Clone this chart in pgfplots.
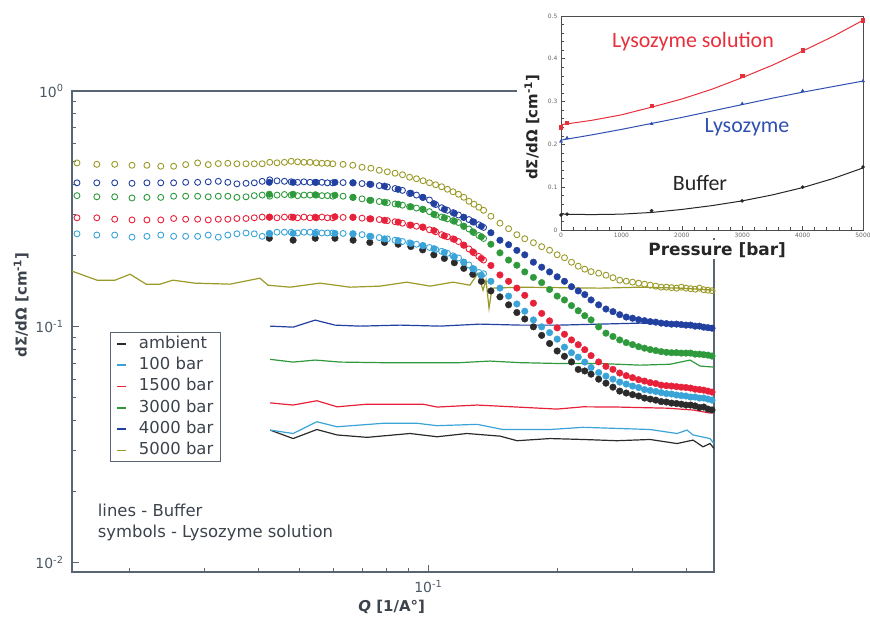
\documentclass[border=0pt]{standalone}
\usepackage{pgfplots}
\pgfplotsset{compat=1.18}
\usepackage{pgfplotstable}
\usepackage{fontspec}
\setmainfont{DejaVu Sans}
\newfontfamily\carlito{Carlito}
\definecolor{cAmb}{HTML}{2B2B2B}
\definecolor{cB}{HTML}{3AA3D8}
\definecolor{cR}{HTML}{E8213A}
\definecolor{cG}{HTML}{2E9A3C}
\definecolor{cBl}{HTML}{2140A0}
\definecolor{cO}{HTML}{9A9A28}
\definecolor{axisc}{HTML}{5A6573}
\definecolor{textc}{HTML}{3C434C}
\definecolor{tickc}{HTML}{4B5866}
\definecolor{insR}{HTML}{E8303C}
\definecolor{insB}{HTML}{3050B0}

% Lysozyme solution, filled symbols (high-Q setting)
\pgfplotstableread{
Q amb p100 p1500 p3000 p4000
0.0425 0.2375 0.249 0.2916 0.365 0.410
0.0483 0.233 0.249 0.2916 0.365 0.410
0.0544 0.2375 0.249 0.2916 0.363 0.410
0.0605 0.2375 0.249 0.293 0.3615 0.410
0.0667 0.233 0.248 0.2916 0.354 0.408
0.073 0.228 0.242 0.287 0.344 0.4025
0.079 0.228 0.236 0.283 0.3375 0.395
0.085 0.224 0.232 0.278 0.331 0.383
0.091 0.219 0.226 0.270 0.323 0.3685
0.097 0.212 0.221 0.265 0.315 0.354
0.103 0.202 0.2145 0.256 0.300 0.333
0.109 0.195 0.207 0.243 0.290 0.315
0.115 0.187 0.198 0.235 0.2805 0.303
0.121 0.177 0.188 0.222 0.267 0.2916
0.127 0.167 0.1765 0.208 0.253 0.279
0.133 0.156 0.1656 0.195 0.241 0.267
0.140 0.142 0.156 0.182 0.224 0.2506
0.147 0.134 0.146 0.166 0.206 0.233
0.154 0.124 0.135 0.156 0.192 0.223
0.161 0.115 0.125 0.146 0.1825 0.211
0.168 0.108 0.1165 0.136 0.171 0.202
0.176 0.100 0.107 0.126 0.162 0.188
0.184 0.092 0.100 0.114 0.154 0.179
0.192 0.085 0.0945 0.106 0.144 0.171
0.200 0.079 0.0887 0.099 0.135 0.163
0.208 0.075 0.082 0.093 0.130 0.156
0.216 0.071 0.0777 0.088 0.123 0.148
0.224 0.066 0.0744 0.084 0.117 0.142
0.232 0.065 0.0709 0.080 0.1115 0.137
0.240 0.063 0.0672 0.0755 0.107 0.130
0.250 0.060 0.064 0.071 0.100 0.124
0.260 0.0577 0.0618 0.068 0.094 0.119
0.270 0.0555 0.060 0.066 0.091 0.116
0.280 0.0534 0.0583 0.0637 0.088 0.1126
0.290 0.0524 0.0572 0.0621 0.0857 0.110
0.300 0.0516 0.0561 0.0609 0.0841 0.1088
0.310 0.0509 0.0553 0.0597 0.0824 0.1072
0.320 0.0499 0.0542 0.0589 0.0812 0.1062
0.330 0.0494 0.0537 0.0580 0.0801 0.1052
0.340 0.0489 0.0532 0.0575 0.0793 0.1047
0.350 0.0482 0.0526 0.0566 0.0785 0.1037
0.360 0.0480 0.0521 0.0563 0.0780 0.1032
0.370 0.0475 0.0519 0.0561 0.0777 0.1027
0.380 0.0473 0.0514 0.0558 0.0777 0.1027
0.390 0.0470 0.0511 0.0555 0.0774 0.1022
0.400 0.0466 0.0509 0.0553 0.0774 0.1017
0.410 0.0466 0.0504 0.0550 0.0774 0.1017
0.420 0.0462 0.0504 0.0544 0.0766 0.1007
0.430 0.0455 0.0499 0.0542 0.0766 0.1007
0.440 0.0457 0.0499 0.0539 0.0762 0.0997
0.450 0.0448 0.0494 0.0534 0.0759 0.0992
0.460 0.0444 0.0489 0.0529 0.0752 0.0987
}\filled

% Lysozyme solution, open symbols (low-Q setting)
\pgfplotstableread{
Q p100 p1500 p3000 p4000 p5000
0.0151 0.248 0.290 0.360 0.408 0.4955
0.0168 0.245 0.290 0.356 0.408 0.4887
0.0185 0.245 0.286 0.356 0.408 0.4887
0.0203 0.240 0.284 0.352 0.406 0.4843
0.0220 0.242 0.284 0.354 0.408 0.4843
0.0237 0.245 0.284 0.354 0.408 0.4796
0.0254 0.242 0.288 0.358 0.408 0.4796
0.0271 0.242 0.286 0.358 0.410 0.4874
0.0289 0.242 0.286 0.358 0.410 0.4955
0.0306 0.245 0.284 0.356 0.412 0.4874
0.0323 0.240 0.286 0.358 0.414 0.4922
0.0340 0.245 0.286 0.358 0.410 0.4938
0.0357 0.248 0.288 0.354 0.404 0.4914
0.0375 0.250 0.288 0.356 0.406 0.4914
0.0392 0.248 0.290 0.360 0.408 0.4914
0.0409 0.242 0.292 0.362 0.414 0.4914
0.0426 0.248 0.292 0.358 0.420 0.4985
0.0443 0.252 0.290 0.362 0.416 0.4960
0.0461 0.252 0.292 0.364 0.414 0.4985
0.0478 0.252 0.292 0.362 0.412 0.5035
0.0495 0.250 0.290 0.360 0.410 0.5010
0.0512 0.252 0.292 0.362 0.412 0.4985
0.0529 0.252 0.290 0.362 0.410 0.4985
0.0547 0.252 0.290 0.362 0.410 0.4960
0.0564 0.250 0.292 0.360 0.410 0.4938
0.0581 0.250 0.290 0.360 0.408 0.4938
0.0598 0.250 0.290 0.358 0.408 0.4914
0.0632 0.249 0.291 0.358 0.409 0.4887
0.0666 0.248 0.291 0.354 0.408 0.4843
0.0700 0.246 0.289 0.349 0.405 0.4750
0.0734 0.242 0.287 0.344 0.402 0.4705
0.0768 0.239 0.285 0.340 0.397 0.4613
0.0802 0.236 0.282 0.336 0.392 0.4546
0.0836 0.233 0.279 0.332 0.386 0.4480
0.0870 0.230 0.275 0.328 0.379 0.4415
0.0904 0.227 0.270 0.323 0.368 0.4309
0.0938 0.224 0.267 0.319 0.362 0.4246
0.0972 0.221 0.264 0.315 0.354 0.4164
0.1006 0.217 0.258 0.308 0.345 0.4083
0.1040 0.213 0.253 0.298 0.330 0.4004
0.1074 0.209 0.246 0.292 0.320 0.3927
0.1108 0.205 0.241 0.287 0.312 0.3832
0.1142 0.200 0.236 0.282 0.305 0.3740
0.1176 0.196 0.230 0.277 0.298 0.3650
0.1210 0.188 0.222 0.267 0.291 0.3544
0.1244 0.183 0.214 0.260 0.285 0.3408
0.1278 0.176 0.206 0.251 0.278 0.3311
0.1312 0.170 0.199 0.244 0.271 0.3215
0.1346 0.168 0.192 0.237 0.264 0.3121
}\openlow

% 5000 bar solution, open symbols at high Q
\pgfplotstableread{
Q I
0.140 0.2944
0.147 0.2751
0.154 0.2607
0.161 0.2458
0.168 0.2364
0.176 0.2274
0.184 0.2187
0.192 0.2113
0.200 0.2022
0.208 0.1964
0.216 0.1879
0.224 0.1808
0.232 0.1756
0.240 0.1714
0.250 0.1689
0.260 0.1656
0.270 0.1616
0.280 0.1577
0.290 0.1562
0.300 0.1547
0.310 0.1532
0.320 0.1517
0.330 0.1502
0.340 0.1488
0.350 0.1473
0.360 0.1473
0.370 0.1466
0.380 0.1459
0.390 0.1473
0.400 0.1459
0.410 0.1451
0.420 0.1444
0.430 0.1459
0.440 0.1437
0.450 0.1430
0.460 0.1423
}\olivehigh

\begin{document}
\begin{tikzpicture}
\useasboundingbox (0,0) rectangle (870bp,621bp);
\begin{axis}[
  at={(72bp,49bp)}, anchor=south west, scale only axis,
  width=642bp, height=481bp,
  xmode=log, ymode=log,
  xmin=0.0147, xmax=0.465, ymin=0.00913, ymax=1,
  axis line style={draw=axisc, line width=1.2bp},
  tick align=inside, tick pos=left,
  xtick={0.1}, xticklabels={10\textsuperscript{-1}},
  minor xtick={0.02,0.03,0.04,0.05,0.06,0.07,0.08,0.09,0.2,0.3,0.4},
  ytick={0.01,0.1,1},
  yticklabels={10\textsuperscript{-2},10\textsuperscript{-1},10\textsuperscript{0}},
  minor ytick={0.02,0.03,0.04,0.05,0.06,0.07,0.08,0.09,0.2,0.3,0.4,0.5,0.6,0.7,0.8,0.9},
  major tick length=7bp, minor tick length=4.5bp,
  every tick/.style={draw=axisc, line width=1bp},
  ticklabel style={font=\fontsize{14}{14}\selectfont, text=tickc},
  yticklabel style={xshift=-5bp},
  xticklabel style={yshift=-5bp},
  xlabel={\textbf{\textit{Q} [1/A°]}},
  ylabel={\textbf{dΣ/dΩ [cm\textsuperscript{-1}]}},
  label style={font=\fontsize{15}{15}\selectfont, text=textc},
  xlabel style={at={(axis description cs:0.498,-0.073)}, anchor=center},
  ylabel style={at={(axis description cs:-0.079,0.555)}, anchor=center},
  legend style={at={(0.0592,0.499)}, anchor=north west, draw=axisc, line width=0.8bp,
    fill=white, font=\fontsize{16.5}{18}\selectfont, text=textc,
    inner xsep=6bp, inner ysep=3bp, row sep=4.3bp, column sep=11bp,
    nodes={inner sep=1bp, text height=12bp, text depth=3bp},
    cells={anchor=west}},
  legend image code/.code={\draw[#1, line width=1.6bp] (0bp,0bp) -- (9bp,0bp);},
  clip=true,
]
% ---- buffer (lines)
\addplot[cAmb, line width=1.2bp] coordinates {
(0.0427,0.0365) (0.0483,0.0336) (0.0549,0.0367) (0.0612,0.0348) (0.0719,0.0340)
(0.0906,0.0353) (0.1048,0.0342) (0.1231,0.0353) (0.1471,0.0344) (0.1612,0.0329)
(0.1924,0.0336) (0.2298,0.0333) (0.2760,0.0329) (0.3296,0.0333) (0.3812,0.0320)
(0.4154,0.0331) (0.4383,0.0310) (0.4551,0.0320) (0.465,0.0305)};
\addlegendentry{ambient}
\addplot[cB, line width=1.2bp] coordinates {
(0.0427,0.0365) (0.0483,0.0353) (0.0549,0.0396) (0.0612,0.0377) (0.0784,0.0390)
(0.0941,0.0390) (0.1048,0.0381) (0.1300,0.0386) (0.1494,0.0367) (0.1924,0.0367)
(0.2298,0.0375) (0.2760,0.0371) (0.3296,0.0367) (0.3812,0.0353) (0.4022,0.0365)
(0.4154,0.0348) (0.4551,0.0336) (0.465,0.0320)};
\addlegendentry{100 bar}
\addplot[cR, line width=1.2bp] coordinates {
(0.0427,0.0476) (0.0483,0.0466) (0.0549,0.0486) (0.0612,0.0458) (0.0719,0.0470)
(0.0972,0.0470) (0.1048,0.0457) (0.1300,0.0466) (0.1612,0.0457) (0.1999,0.0448)
(0.2298,0.0458) (0.2760,0.0457) (0.3612,0.0452) (0.4154,0.0444) (0.4551,0.0431) (0.465,0.0435)};
\addlegendentry{1500 bar}
\addplot[cG, line width=1.2bp] coordinates {
(0.0427,0.0728) (0.0483,0.0709) (0.0544,0.0723) (0.0622,0.0709) (0.0771,0.0705)
(0.0956,0.0705) (0.1186,0.0705) (0.1393,0.0716) (0.1637,0.0705) (0.2030,0.0699)
(0.2519,0.0699) (0.3124,0.0688) (0.3670,0.0694) (0.4088,0.0723) (0.4313,0.0682) (0.465,0.0675)};
\addlegendentry{3000 bar}
\addplot[cBl, line width=1.2bp] coordinates {
(0.0427,0.1007) (0.0483,0.0997) (0.0544,0.1068) (0.0605,0.1017) (0.0692,0.1007)
(0.0859,0.1017) (0.1065,0.1007) (0.1320,0.1027) (0.1637,0.1017) (0.2030,0.1017)
(0.2519,0.1027) (0.3124,0.1037) (0.3873,0.1027) (0.465,0.1007)};
\addlegendentry{4000 bar}
\addplot[cO, line width=1.2bp] coordinates {
(0.01471,0.1722) (0.01682,0.1577) (0.01853,0.1577) (0.02009,0.1672) (0.0219,0.1517)
(0.0236,0.1517) (0.0253,0.1577) (0.0285,0.1532) (0.0344,0.1517) (0.0404,0.1608)
(0.0422,0.1502) (0.0475,0.1473) (0.0558,0.1532) (0.0656,0.1473) (0.0771,0.1488)
(0.0891,0.1547) (0.1009,0.1488) (0.1142,0.1547) (0.1251,0.1502) (0.1306,0.1689)
(0.1342,0.1430) (0.1364,0.1577) (0.1386,0.1200) (0.1409,0.1459) (0.1637,0.1473)
(0.2030,0.1466) (0.2519,0.1459) (0.3124,0.1473) (0.3873,0.1459) (0.4313,0.1444) (0.465,0.1430)};
\addlegendentry{5000 bar}
% ---- solution, filled symbols
\addplot[forget plot, only marks, mark=*, mark size=3.3bp, color=cAmb] table[x=Q,y=amb] {\filled};
\addplot[forget plot, only marks, mark=*, mark size=3.3bp, color=cB] table[x=Q,y=p100] {\filled};
\addplot[forget plot, only marks, mark=*, mark size=3.3bp, color=cR] table[x=Q,y=p1500] {\filled};
\addplot[forget plot, only marks, mark=*, mark size=3.3bp, color=cG] table[x=Q,y=p3000] {\filled};
\addplot[forget plot, only marks, mark=*, mark size=3.3bp, color=cBl] table[x=Q,y=p4000] {\filled};
% ---- solution, open symbols
\addplot[forget plot, only marks, mark=o, mark size=3bp, mark options={line width=0.9bp}, color=cB] table[x=Q,y=p100] {\openlow};
\addplot[forget plot, only marks, mark=o, mark size=3bp, mark options={line width=0.9bp}, color=cR] table[x=Q,y=p1500] {\openlow};
\addplot[forget plot, only marks, mark=o, mark size=3bp, mark options={line width=0.9bp}, color=cG] table[x=Q,y=p3000] {\openlow};
\addplot[forget plot, only marks, mark=o, mark size=3bp, mark options={line width=0.9bp}, color=cBl] table[x=Q,y=p4000] {\openlow};
\addplot[forget plot, only marks, mark=o, mark size=3bp, mark options={line width=0.9bp}, color=cO] table[x=Q,y=p5000] {\openlow};
\addplot[forget plot, only marks, mark=o, mark size=3bp, mark options={line width=0.9bp}, color=cO] table[x=Q,y=I] {\olivehigh};
\end{axis}

\node[anchor=base west, inner sep=0pt, text=textc, font=\fontsize{16.5}{18}\selectfont] at (97.7bp,104bp) {lines - Buffer};
\node[anchor=base west, inner sep=0pt, text=textc, font=\fontsize{16.5}{18}\selectfont] at (97.7bp,83.7bp) {symbols - Lysozyme solution};

% ---- inset (white panel behind it)
\fill[white] (517bp,431bp) -- (517bp,621bp) -- (870bp,621bp) -- (870bp,383bp) -- (550bp,383bp) -- (550bp,431bp) -- cycle;
\begin{axis}[
  at={(561bp,391bp)}, anchor=south west, scale only axis,
  width=302bp, height=214bp,
  xmin=0, xmax=5000, ymin=0, ymax=0.5,
  xtick={0,1000,2000,3000,4000,5000},
  ytick={0,0.1,0.2,0.3,0.4,0.5},
  minor x tick num=4, minor y tick num=4,
  tick align=inside, tick pos=left,
  major tick length=4bp, minor tick length=2.5bp,
  every tick/.style={draw=black!70, line width=0.6bp},
  axis line style={draw=black!70, line width=0.8bp},
  /pgf/number format/assume math mode=true,
  /pgf/number format/1000 sep={},
  /pgf/number format/fixed,
  ticklabel style={font=\fontsize{6}{6}\selectfont, text=black!60},
  xlabel={\textbf{Pressure [bar]}},
  ylabel={\textbf{dΣ/dΩ [cm\textsuperscript{-1}]}},
  xlabel style={font=\fontsize{17}{17}\selectfont, text=black!85, fill=white, inner sep=2bp, at={(axis description cs:0.517,-0.093)}, anchor=center},
  ylabel style={font=\fontsize{15}{15}\selectfont, text=black!85, at={(axis description cs:-0.096,0.48)}, anchor=center},
]
\addplot[insR, line width=1bp] coordinates {(0,0.246) (500,0.256) (1000,0.269) (1500,0.287) (2000,0.306) (2500,0.329) (3000,0.356) (3500,0.385) (4000,0.418) (4500,0.452) (5000,0.49)};
\addplot[insR, only marks, mark=square*, mark size=1.6bp] coordinates {(0,0.24) (100,0.25) (1500,0.29) (3000,0.36) (4000,0.42) (5000,0.49)};
\addplot[insB, line width=1bp] coordinates {(0,0.21) (500,0.222) (1000,0.235) (1500,0.249) (2000,0.263) (2500,0.278) (3000,0.293) (3500,0.308) (4000,0.322) (4500,0.335) (5000,0.348)};
\addplot[insB, only marks, mark=triangle*, mark size=1.8bp] coordinates {(0,0.207) (100,0.215) (1500,0.248) (3000,0.295) (4000,0.325) (5000,0.348)};
\addplot[black!85, line width=1bp] coordinates {(0,0.037) (500,0.036) (1000,0.037) (1500,0.041) (2000,0.048) (2500,0.057) (3000,0.068) (3500,0.082) (4000,0.099) (4500,0.12) (5000,0.145)};
\addplot[black!85, only marks, mark=*, mark size=1.6bp] coordinates {(0,0.035) (100,0.037) (1500,0.045) (3000,0.068) (4000,0.1) (5000,0.147)};
\end{axis}
\node[text=insR, font=\carlito\fontsize{22}{22}\selectfont] at (693bp,579bp) {Lysozyme solution};
\node[text=insB, font=\carlito\fontsize{22}{22}\selectfont] at (747bp,494bp) {Lysozyme};
\node[text=black!85, font=\carlito\fontsize{22}{22}\selectfont] at (700bp,438bp) {Buffer};
\end{tikzpicture}
\end{document}
